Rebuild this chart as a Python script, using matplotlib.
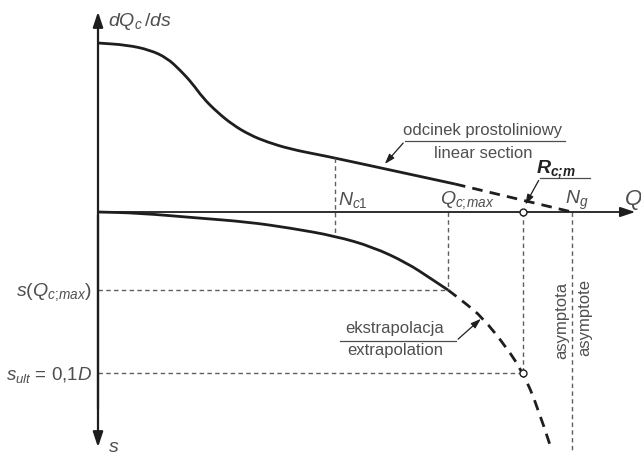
import matplotlib
matplotlib.use("Agg")
import matplotlib.pyplot as plt
from matplotlib.path import Path
from matplotlib.patches import PathPatch
import numpy as np

plt.rcParams['font.family'] = ['Liberation Sans', 'DejaVu Sans']
plt.rcParams['mathtext.fontset'] = 'custom'
plt.rcParams['mathtext.rm'] = 'Liberation Sans'
plt.rcParams['mathtext.it'] = 'Liberation Sans:italic'
plt.rcParams['mathtext.bf'] = 'Liberation Sans:bold:italic'

# ---- schematic data (Q along x, dQc/ds up, settlement s down as negative) ----
upper_q = [0, 29, 52, 69, 82, 94, 105, 119, 135, 152, 169, 192, 222, 237, 357]
upper_v = [169, 167, 162, 154, 142, 129, 114, 100, 87, 77, 70, 63, 57, 54, 28]
linear_ext_q = [357, 474]
linear_ext_v = [28, 0]

lower_q = [0, 40, 100, 150, 192, 237, 275, 309, 332, 350]
lower_s = [0, -1, -6, -10, -16, -24, -35, -51, -66, -78]
extrap_q = [350, 367, 384, 409, 425, 439, 452]
extrap_s = [-78, -91, -105, -136, -161, -193, -233]

N_c1 = 237
Q_cmax = 350
R_cm = 425
N_g = 474
s_Qcmax = -78
s_ult = -161

LINE = '#1e1e1e'
TXT = '#4f4f4f'
DASH = '#5f5f5f'

fig = plt.figure(figsize=(6.41, 4.59), dpi=100)
ax = fig.add_axes([0, 0, 1, 1])
ax.set_xlim(-98, 543)
ax.set_ylim(-247, 212)
ax.axis('off')
fig.patch.set_facecolor('white')


def smooth_curve(xs, ys, **kw):
    pts = list(zip(xs, ys))
    verts = [pts[0]]
    codes = [Path.MOVETO]
    if len(pts) > 2:
        m = ((pts[0][0] + pts[1][0]) / 2, (pts[0][1] + pts[1][1]) / 2)
        verts.append(m); codes.append(Path.LINETO)
        for i in range(1, len(pts) - 1):
            nm = ((pts[i][0] + pts[i + 1][0]) / 2, (pts[i][1] + pts[i + 1][1]) / 2)
            if i == len(pts) - 2:
                nm = pts[-1]
            verts += [pts[i], nm]
            codes += [Path.CURVE3, Path.CURVE3]
    else:
        verts.append(pts[1]); codes.append(Path.LINETO)
    ax.add_patch(PathPatch(Path(verts, codes), fill=False, **kw))


# axes arrows
akw = dict(arrowstyle='-|>,head_length=0.9,head_width=0.3', color=LINE, lw=1.6)
ax.annotate('', xy=(0, 203), xytext=(0, -200), arrowprops=akw)
ax.annotate('', xy=(0, -238), xytext=(0, 0), arrowprops=akw)
ax.annotate('', xy=(540, 0), xytext=(0, 0),
            arrowprops=dict(arrowstyle='-|>,head_length=0.9,head_width=0.3', color=LINE, lw=1.3))

# curves
smooth_curve(upper_q, upper_v, edgecolor=LINE, lw=2.0)
ax.plot(linear_ext_q, linear_ext_v, color=LINE, lw=2.0, dashes=(3.8, 2.6))
smooth_curve(lower_q, lower_s, edgecolor=LINE, lw=2.0)
smooth_curve(extrap_q, extrap_s, edgecolor=LINE, lw=2.0, linestyle=(0, (3.8, 2.6)))

# guide lines
dkw = dict(color=DASH, lw=1.0, dashes=(3.2, 2.4))
ax.plot([N_c1, N_c1], [54, -24], **dkw)
ax.plot([Q_cmax, Q_cmax], [0, s_Qcmax], **dkw)
ax.plot([R_cm, R_cm], [0, s_ult], **dkw)
ax.plot([N_g, N_g], [0, -238], **dkw)
ax.plot([0, Q_cmax], [s_Qcmax, s_Qcmax], **dkw)
ax.plot([0, R_cm], [s_ult, s_ult], **dkw)

# open circles
ax.plot([R_cm, R_cm], [0, s_ult], 'o', ms=5, mfc='white', mec=LINE, mew=1.0, zorder=5)

# labels
ax.text(10, 190, r'$dQ_c\,/ds$', fontsize=14, color=TXT, va='center', ha='left')
ax.text(10, -235, r'$s$', fontsize=14, color=TXT, va='center', ha='left')
ax.text(535, 12, r'$Q$', fontsize=16, color=TXT, va='center', ha='center')
ax.text(240, 12, r'$N_{c1}$', fontsize=14, color=TXT, va='center', ha='left')
ax.text(342, 12, r'$Q_{c;\!max}$', fontsize=14, color=TXT, va='center', ha='left')
ax.text(467, 12, r'$N_g$', fontsize=14, color=TXT, va='center', ha='left')
ax.text(438, 42, r'$\mathbf{R_{c;\!m}}$', fontsize=14, color='#222222', va='center', ha='left')
ax.text(-6, -80, r'$s(Q_{c;\!max})$', fontsize=14, color=TXT, va='center', ha='right')
ax.text(-6, -163, r'$s_{ult}$ = 0,1$D$', fontsize=13.5, color=TXT, va='center', ha='right')

ax.text(385, 82, 'odcinek prostoliniowy', fontsize=12, color=TXT, va='center', ha='center')
ax.text(385, 59, 'linear section', fontsize=12, color=TXT, va='center', ha='center')
ax.text(297, -117, 'ekstrapolacja', fontsize=12, color=TXT, va='center', ha='center')
ax.text(297, -139, 'extrapolation', fontsize=12, color=TXT, va='center', ha='center')
ax.text(464, -108, 'asymptota', fontsize=12, color=TXT, va='center', ha='center', rotation=90)
ax.text(487, -106, 'asymptote', fontsize=12, color=TXT, va='center', ha='center', rotation=90)

# leader lines
lkw = dict(color=TXT, lw=0.9)
hkw = dict(arrowstyle='-|>,head_length=0.6,head_width=0.2', color=LINE, lw=0.9)
ax.plot([307, 467], [71, 71], **lkw)
ax.annotate('', xy=(285, 46), xytext=(307, 71), arrowprops=hkw)
ax.plot([442, 492], [34, 34], **lkw)
ax.annotate('', xy=(426, 5), xytext=(442, 34), arrowprops=hkw)
ax.plot([242, 358], [-129, -129], **lkw)
ax.annotate('', xy=(385, -105), xytext=(358, -129), arrowprops=hkw)

fig.savefig('out.png', dpi=100, facecolor='white')
